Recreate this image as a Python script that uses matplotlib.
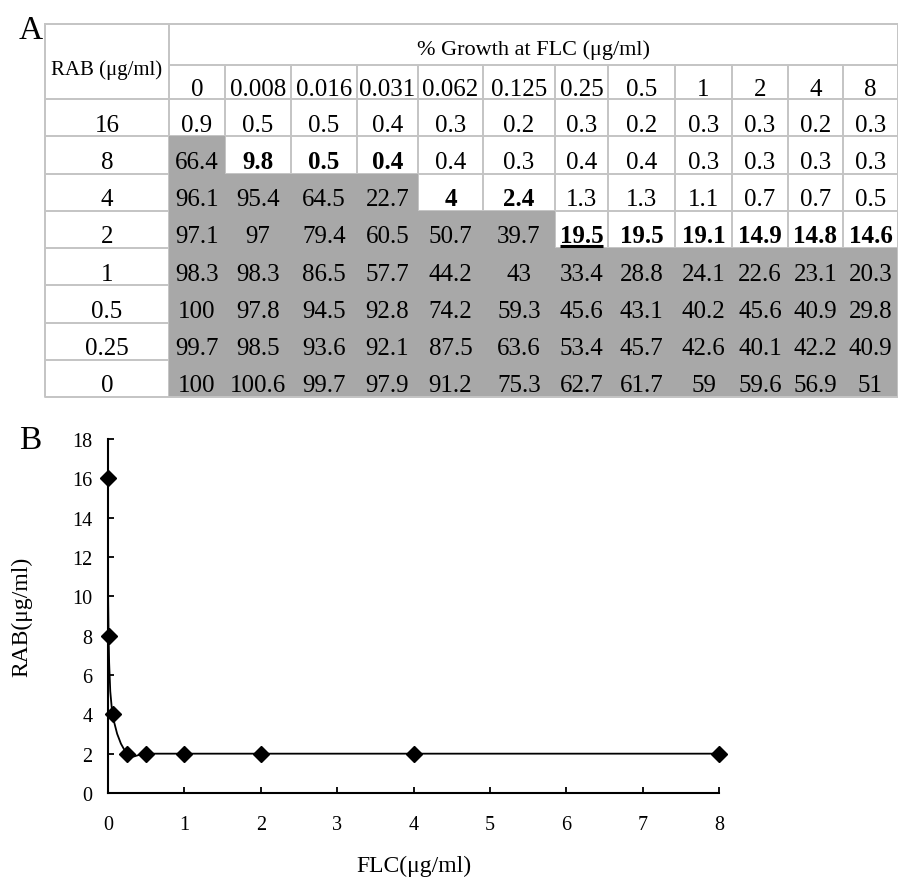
import numpy as np
import matplotlib
matplotlib.use("Agg")
from matplotlib import pyplot as plt
from matplotlib import font_manager
from matplotlib.patches import Rectangle, PathPatch
from matplotlib.path import Path

# ---- data: panel A, % growth at FLC for each RAB level
rab_levels = ['16', '8', '4', '2', '1', '0.5', '0.25', '0']
flc_levels = ['0', '0.008', '0.016', '0.031', '0.062', '0.125', '0.25', '0.5', '1', '2', '4', '8']
growth = [
    [0.9, 0.5, 0.5, 0.4, 0.3, 0.2, 0.3, 0.2, 0.3, 0.3, 0.2, 0.3],
    [66.4, 9.8, 0.5, 0.4, 0.4, 0.3, 0.4, 0.4, 0.3, 0.3, 0.3, 0.3],
    [96.1, 95.4, 64.5, 22.7, 4, 2.4, 1.3, 1.3, 1.1, 0.7, 0.7, 0.5],
    [97.1, 97, 79.4, 60.5, 50.7, 39.7, 19.5, 19.5, 19.1, 14.9, 14.8, 14.6],
    [98.3, 98.3, 86.5, 57.7, 44.2, 43, 33.4, 28.8, 24.1, 22.6, 23.1, 20.3],
    [100, 97.8, 94.5, 92.8, 74.2, 59.3, 45.6, 43.1, 40.2, 45.6, 40.9, 29.8],
    [99.7, 98.5, 93.6, 92.1, 87.5, 63.6, 53.4, 45.7, 42.6, 40.1, 42.2, 40.9],
    [100, 100.6, 99.7, 97.9, 91.2, 75.3, 62.7, 61.7, 59, 59.6, 56.9, 51],
]
# number of leading shaded (grey) cells in each row
shaded_count = [0, 1, 4, 6, 12, 12, 12, 12]
# bold cells (row, col), and the underlined one
bold_cells = [(1, 1), (1, 2), (1, 3), (2, 4), (2, 5),
              (3, 6), (3, 7), (3, 8), (3, 9), (3, 10), (3, 11)]
underline_cell = (3, 6)

# ---- data: panel B, isobologram points
flc_mic = [0, 0.008, 0.062, 0.25, 0.5, 1, 2, 4, 8]
rab_mic = [16, 8, 4, 2, 2, 2, 2, 2, 2]


def pick_font(names):
    for n in names:
        try:
            font_manager.findfont(font_manager.FontProperties(family=n), fallback_to_default=False)
            return n
        except ValueError:
            pass
    return 'DejaVu Serif'


SERIF = pick_font(['Liberation Serif', 'DejaVu Serif'])
NUMF = SERIF

W, H = 898, 878
fig = plt.figure(figsize=(W / 100, H / 100), dpi=100)

GRID = '#c4c4c4'
GREY = '#a8a8a8'

# ---- panel A table (axes in pixel-like units)
col_w = [124, 56, 66, 66, 61, 65, 72, 53, 67, 57, 56, 55, 55]
head_h = [41, 34]
row_h = 37.25
tab_left, tab_top = 45, 25
tab_w = sum(col_w)
tab_h = sum(head_h) + row_h * len(rab_levels)
axt = fig.add_axes([tab_left / W, 1 - (tab_top + tab_h) / H, tab_w / W, tab_h / H])
axt.set_xlim(0, tab_w)
axt.set_ylim(tab_h, 0)
axt.axis('off')

xedges = np.concatenate([[0], np.cumsum(col_w)])
y0 = sum(head_h)
yedges = y0 + row_h * np.arange(len(rab_levels) + 1)
lw = 1.4

# grid lines
axt.vlines(xedges[1], 0, tab_h, color=GRID, lw=lw, zorder=1)
axt.vlines(xedges[2:-1], head_h[0], tab_h, color=GRID, lw=lw, zorder=1)
axt.hlines(head_h[0], xedges[1], tab_w, color=GRID, lw=lw, zorder=1)
axt.hlines(yedges[:-1], 0, tab_w, color=GRID, lw=lw, zorder=1)

# shaded cells
for r, n in enumerate(shaded_count):
    if n:
        axt.add_patch(Rectangle((xedges[1], yedges[r]), xedges[1 + n] - xedges[1], row_h,
                                facecolor=GREY, edgecolor='none', zorder=2))

# outer border
axt.plot([0, tab_w, tab_w, 0, 0], [0, 0, tab_h, tab_h, 0], color=GRID, lw=lw, zorder=3, clip_on=False)

# header text
axt.text(xedges[1] / 2, 50, 'RAB (μg/ml)', ha='center', va='baseline',
         fontsize=15, family=SERIF, zorder=4)
axt.text((xedges[1] + tab_w) / 2, 30, '% Growth at FLC (μg/ml)', ha='center', va='baseline',
         fontsize=16, family=SERIF, zorder=4)
for j, lab in enumerate(flc_levels):
    axt.text((xedges[j + 1] + xedges[j + 2]) / 2, y0 - 3.5, lab, ha='center', va='baseline',
             fontsize=18, family=NUMF, zorder=4)

# body
under_text = None
for r, lab in enumerate(rab_levels):
    base = yedges[r + 1] - 5.5
    axt.text(xedges[1] / 2, base, lab, ha='center', va='baseline', fontsize=18, family=NUMF, zorder=4)
    for j, v in enumerate(growth[r]):
        bold = (r, j) in bold_cells
        t = axt.text((xedges[j + 1] + xedges[j + 2]) / 2, base, '%g' % v, ha='center', va='baseline',
                     fontsize=18, family=NUMF, fontweight='bold' if bold else 'normal', zorder=4)
        if (r, j) == underline_cell:
            under_text = t

fig.canvas.draw()
bb = under_text.get_window_extent()
inv = axt.transData.inverted()
ux0, _ = inv.transform((bb.x0, bb.y0))
ux1, _ = inv.transform((bb.x1, bb.y0))
uy = yedges[underline_cell[0] + 1] - 2.5
axt.plot([ux0, ux1], [uy, uy], color='black', lw=2.2, zorder=5, solid_capstyle='butt')

fig.text(19 / W, 1 - 31 / H, 'A', fontsize=24, family=SERIF, va='center', ha='left')

# ---- panel B isobologram
ax_l, ax_r, ax_t, ax_b = 108, 719, 440, 794
ax = fig.add_axes([ax_l / W, 1 - ax_b / H, (ax_r - ax_l) / W, (ax_b - ax_t) / H])
ax.set_xlim(0, 8)
ax.set_ylim(0, 18)

# smoothed line through the points (Excel-style cubic Bezier)
pts = np.column_stack([flc_mic, rab_mic]).astype(float)
verts = [pts[0]]
codes = [Path.MOVETO]
n = len(pts)
for i in range(n - 1):
    p0 = pts[max(i - 1, 0)]
    p1 = pts[i]
    p2 = pts[i + 1]
    p3 = pts[min(i + 2, n - 1)]
    verts += [p1 + (p2 - p0) / 6, p2 - (p3 - p1) / 6, p2]
    codes += [Path.CURVE4] * 3
ax.add_patch(PathPatch(Path(verts, codes), facecolor='none', edgecolor='black', lw=1.3,
                       clip_on=False, zorder=3))
ax.plot(flc_mic, rab_mic, 'D', color='black', ms=8.5, clip_on=False, zorder=5)

for s in ['top', 'right']:
    ax.spines[s].set_visible(False)
for s in ['left', 'bottom']:
    ax.spines[s].set_linewidth(1.5)
ax.set_xticks(range(0, 9))
ax.set_yticks(range(0, 19, 2))
ax.tick_params(axis='both', direction='in', length=4, width=1.3, labelsize=14.5)
ax.tick_params(axis='x', pad=16)
ax.tick_params(axis='y', pad=11)
for lab in ax.get_xticklabels() + ax.get_yticklabels():
    lab.set_family(SERIF)
ax.set_xlabel('FLC(μg/ml)', fontsize=17, family=SERIF)
ax.set_ylabel('RAB(μg/ml)', fontsize=17, family=SERIF)
ax.xaxis.set_label_coords(0.5, -0.175)
ax.yaxis.set_label_coords(-0.123, 0.5)

fig.text(19 / W, 1 - 441 / H, 'B', fontsize=24, family=SERIF, va='center', ha='left')

fig.savefig('out.png', dpi=100)
